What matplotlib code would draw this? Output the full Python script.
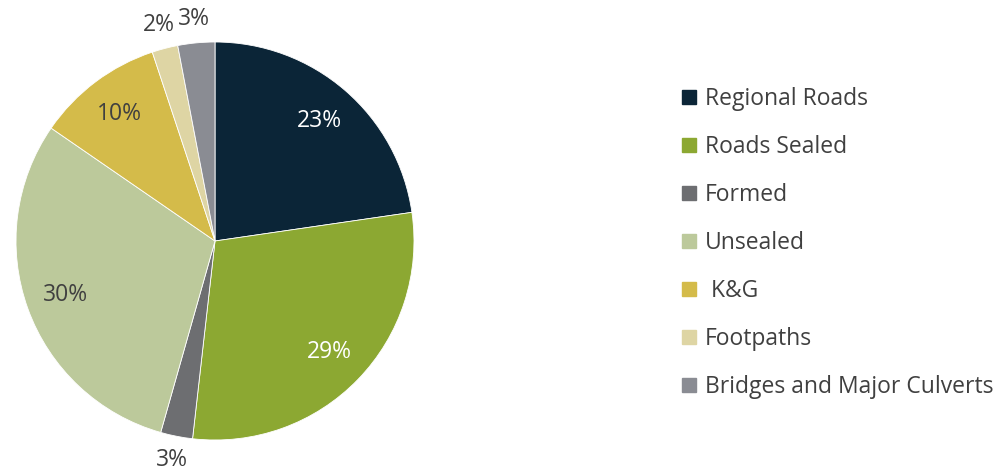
import numpy as np
import matplotlib
matplotlib.use("Agg")
import matplotlib.pyplot as plt
from matplotlib.lines import Line2D

plt.rcParams['font.family'] = ['Open Sans', 'DejaVu Sans']

labels = ['Regional Roads', 'Roads Sealed', 'Formed', 'Unsealed', ' K&G', 'Footpaths',
          'Bridges and Major Culverts']
values = [22.7, 29.1, 2.6, 30.2, 10.3, 2.1, 3.0]
colors = ['#0b2537', '#8ca832', '#6d6e71', '#bcc99b', '#d4bb4a', '#ded5a4', '#8a8c93']
pct_colors = ['white', 'white', '#404040', '#404040', '#404040', '#404040', '#404040']

fig = plt.figure(figsize=(10.01, 4.74), dpi=100)
ax = fig.add_axes([16 / 1001, 34 / 474, 398 / 1001, 398 / 474])

wedges, _ = ax.pie(values, colors=colors, startangle=90, counterclock=False, radius=1,
                   wedgeprops=dict(edgecolor='white', linewidth=0.6))
ax.set_xlim(-1, 1)
ax.set_ylim(-1, 1)
ax.set_aspect('equal')
ax.axis('off')

total = sum(values)
for w, v, c in zip(wedges, values, pct_colors):
    ang = np.deg2rad((w.theta1 + w.theta2) / 2)
    r = 0.8 if v >= 5 else 1.12
    ax.text(r * np.cos(ang), r * np.sin(ang), '%d%%' % round(v / total * 100),
            ha='center', va='center', fontsize=16.5, color=c, clip_on=False)

handles = [Line2D([], [], marker='s', linestyle='none', markersize=10.5,
                  markerfacecolor=c, markeredgecolor=c) for c in colors]
leg = fig.legend(handles, labels, loc='upper left', bbox_to_anchor=(671 / 1001, 1 - 78 / 474),
                 frameon=False, fontsize=16.5, labelspacing=1.045, handlelength=0.8,
                 handletextpad=0.28, borderaxespad=0)
for t in leg.get_texts():
    t.set_color('#404040')

fig.savefig('out.png', dpi=100)
